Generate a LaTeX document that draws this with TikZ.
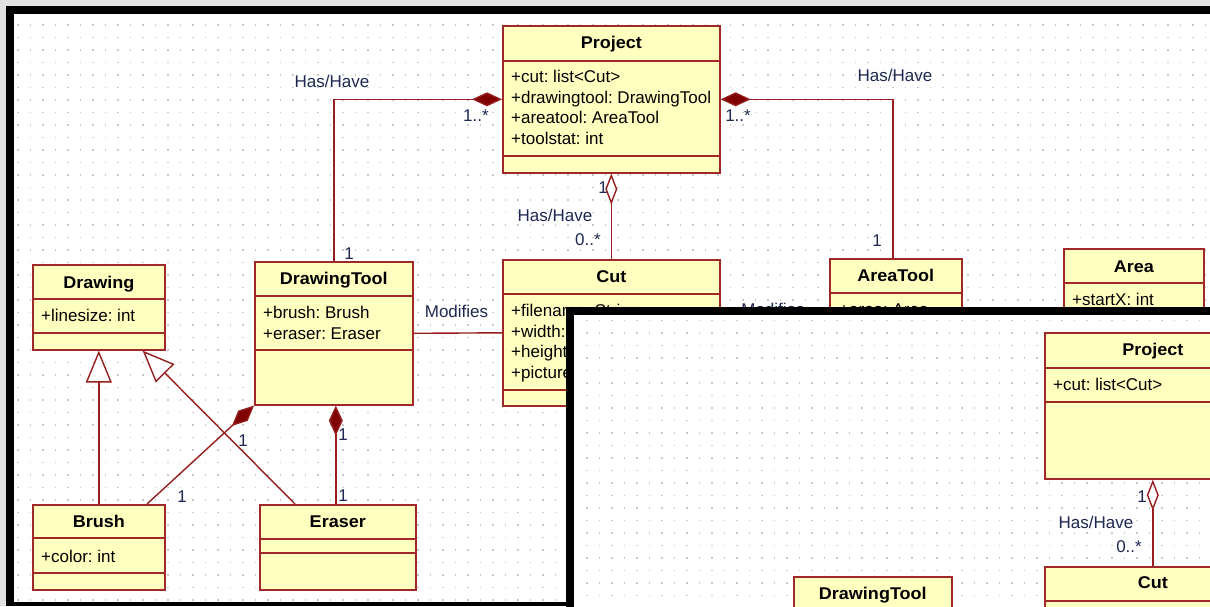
\documentclass[tikz,border=0pt]{standalone}
\usepackage{fontspec}
\setmainfont{Liberation Sans}
\newfontfamily\ttlfont{Liberation Sans}[FakeStretch=1.06]
\usetikzlibrary{arrows.meta,calc}
\frenchspacing
\definecolor{bggray}{RGB}{225,225,225}
\definecolor{dotgray}{RGB}{200,200,200}
\definecolor{boxfill}{RGB}{255,255,192}
\definecolor{boxline}{RGB}{160,40,40}
\definecolor{linkred}{RGB}{150,30,30}
\definecolor{diamred}{RGB}{128,0,0}
\definecolor{labnavy}{RGB}{30,40,80}
\newcommand\classdiv[2]{\draw[cdiv] ($(#1.north west)+(0,#2)$) -- ($(#1.north east)+(0,#2)$);}
\tikzset{
 cls/.style={draw=boxline, fill=boxfill, line width=1.6pt, inner sep=0pt, anchor=north west},
 cdiv/.style={draw=boxline, line width=1.6pt},
 ttl/.style={anchor=base, inner sep=0pt, font=\frenchspacing\ttlfont\bfseries\fontsize{17}{20}\selectfont},
 attr/.style={anchor=base west, inner sep=0pt, font=\frenchspacing\fontsize{17}{20}\selectfont},
 lab/.style={inner sep=0pt, text=labnavy, font=\frenchspacing\fontsize{17}{20}\selectfont},
 link/.style={draw=linkred, line width=1.4pt},
 comp/.style={link, {Diamond[length=30pt,width=14pt,fill=diamred]}-},
 aggr/.style={link, {Diamond[length=31pt,width=12pt,fill=white]}-},
 gen/.style={link, -{Triangle[length=32pt,width=26pt,fill=white]}},
 dotrow/.style={draw=dotgray, line width=1.3pt, dash pattern=on 1.3pt off 11.2pt},
}
\begin{document}
\begin{tikzpicture}[x=1pt,y=-1pt]
\useasboundingbox (0,0) rectangle (1210,606);
\clip (0,0) rectangle (1210,606);
% outer window
\fill[bggray] (0,0) rectangle (1210,606);
\fill[black] (6,6) rectangle (1215,606);
\fill[white] (14,14) rectangle (1215,602);
\foreach \yy in {25,37.5,...,600} \draw[dotrow] (17.35,\yy) -- (1212,\yy);

% classes
\node[cls, minimum width=217pt, minimum height=147pt] (project) at (502,25) {};
\classdiv{project}{36}\classdiv{project}{131}
\node[ttl] (project-t) at ($(project.north)+(0,23.5)$) {Project};
\node[attr] (project-a1) at ($(project.north west)+(9,57)$) {+cut: list<Cut>};
\node[attr] (project-a2) at ($(project.north west)+(9,78)$) {+drawingtool: DrawingTool};
\node[attr] (project-a3) at ($(project.north west)+(9,98)$) {+areatool: AreaTool};
\node[attr] (project-a4) at ($(project.north west)+(9,119)$) {+toolstat: int};

\node[cls, minimum width=158pt, minimum height=143pt] (dtool) at (254,261) {};
\classdiv{dtool}{35}\classdiv{dtool}{89}
\node[ttl] (dtool-t) at ($(dtool.north)+(0,23)$) {DrawingTool};
\node[attr] (dtool-a1) at ($(dtool.north west)+(9,57)$) {+brush: Brush};
\node[attr] (dtool-a2) at ($(dtool.north west)+(9,78)$) {+eraser: Eraser};

\node[cls, minimum width=132pt, minimum height=85pt] (drawing) at (32,264) {};
\classdiv{drawing}{35}\classdiv{drawing}{69}
\node[ttl] (drawing-t) at ($(drawing.north)+(0,24)$) {Drawing};
\node[attr] (drawing-a1) at ($(drawing.north west)+(9,57)$) {+linesize: int};

\node[cls, minimum width=132pt, minimum height=85pt] (brush) at (32,504) {};
\classdiv{brush}{34}\classdiv{brush}{69}
\node[ttl] (brush-t) at ($(brush.north)+(0,23)$) {Brush};
\node[attr] (brush-a1) at ($(brush.north west)+(9,58)$) {+color: int};

\node[cls, minimum width=156pt, minimum height=85pt] (eraser) at (259,504) {};
\classdiv{eraser}{35}\classdiv{eraser}{49}
\node[ttl] (eraser-t) at ($(eraser.north)+(0,23)$) {Eraser};

\node[cls, minimum width=217pt, minimum height=146pt] (cut) at (502,259) {};
\classdiv{cut}{35}\classdiv{cut}{131}
\node[ttl] (cut-t) at ($(cut.north)+(0,23)$) {Cut};
\node[attr] (cut-a1) at ($(cut.north west)+(9,57)$) {+filename: String};
\node[attr] (cut-a2) at ($(cut.north west)+(9,78)$) {+width:};
\node[attr] (cut-a3) at ($(cut.north west)+(9,98)$) {+height};
\node[attr] (cut-a4) at ($(cut.north west)+(9,119)$) {+picture};

\node[cls, minimum width=132pt, minimum height=140pt] (atool) at (829,258) {};
\classdiv{atool}{35}
\node[ttl] (atool-t) at ($(atool.north)+(0,23)$) {AreaTool};
\node[attr] (atool-a1) at ($(atool.north west)+(10,57)$) {+area: Area};

\node[cls, minimum width=140pt, minimum height=140pt] (area) at (1063,248) {};
\classdiv{area}{35}
\node[ttl] (area-t) at ($(area.north)+(0,24)$) {Area};
\node[attr] (area-a1) at ($(area.north west)+(9,57)$) {+startX: int};

% connectors
\draw[comp] (project.west) -| (dtool.north);
\draw[comp] (project.east) -| ($(atool.north)+(-3,0)$);
\draw[aggr] (project.south) -- (cut.north);
\draw[link] (dtool.east) -- (cut.west);
\draw[link] (cut.east) -- (cut.east -| atool.west);
\draw[comp] (dtool.south west) -- ($(brush.north west)+(115,0)$);
\draw[comp] ($(dtool.south)+(2,0)$) -- ($(eraser.north)+(-2,0)$);
\draw[gen] (brush.north) -- (drawing.south);
\draw[gen] ($(eraser.north west)+(36,0)$) -- ($(drawing.south east)+(-23,0)$);

% labels
\node[lab] (l1) at (332,81) {Has/Have};
\node[lab] (l2) at (476,116) {1..*};
\node[lab] (l3) at (349,254) {1};
\node[lab] (l4) at (895,75.5) {Has/Have};
\node[lab] (l5) at (738,116) {1..*};
\node[lab] (l6) at (877,241) {1};
\node[lab] (l7) at (603,188) {1};
\node[lab] (l8) at (555,215.5) {Has/Have};
\node[lab] (l9) at (588,240) {0..*};
\node[lab] (l10) at (456.5,311) {Modifies};
\node[lab] (l11) at (773,309) {Modifies};
\node[lab] (l12) at (243,441) {1};
\node[lab] (l13) at (182,497) {1};
\node[lab] (l14) at (343,435) {1};
\node[lab] (l15) at (343,496) {1};

% inner window
\fill[black] (566,307) rectangle (1215,610);
\fill[white] (574,315) rectangle (1215,610);
\foreach \yy in {320.5,333,...,606} \draw[dotrow] (586.35,\yy) -- (1212,\yy);

\node[cls, minimum width=216pt, minimum height=146pt] (iproject) at (1044,332) {};
\classdiv{iproject}{36}\classdiv{iproject}{70}
\node[ttl] (iproject-t) at ($(iproject.north)+(0,23)$) {Project};
\node[attr] (iproject-a1) at ($(iproject.north west)+(9,58)$) {+cut: list<Cut>};

\node[cls, minimum width=216pt, minimum height=100pt] (icut) at (1044,566) {};
\classdiv{icut}{35}
\node[ttl] (icut-t) at ($(icut.north)+(0,22)$) {Cut};

\node[cls, minimum width=158pt, minimum height=100pt] (idtool) at (793,576) {};
\classdiv{idtool}{35}
\node[ttl] (idtool-t) at ($(idtool.north)+(0,23)$) {DrawingTool};

\draw[aggr] (iproject.south) -- (icut.north);
\node[lab] (il1) at (1142,497) {1};
\node[lab] (il2) at (1096,522) {Has/Have};
\node[lab] (il3) at (1129,547) {0..*};
\end{tikzpicture}
\end{document}
